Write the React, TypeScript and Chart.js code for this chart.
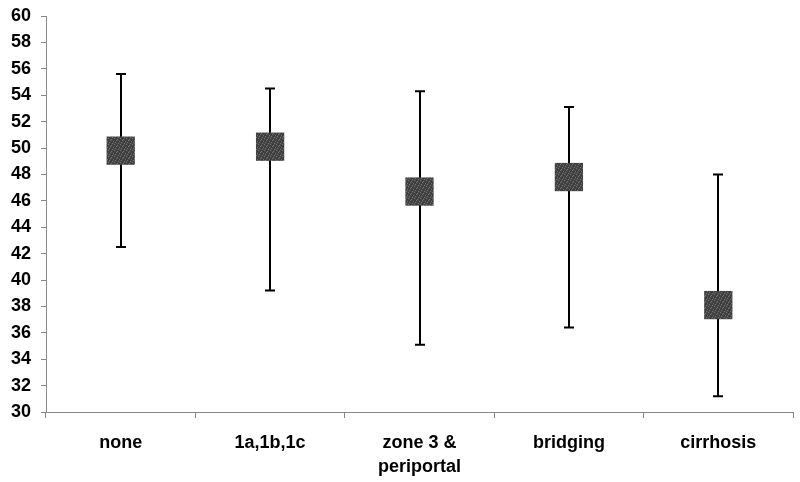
import React, { useEffect, useRef } from "react";
import { Chart, registerables } from "chart.js";

Chart.register(...registerables);

const categories: (string | string[])[] = ["none", "1a,1b,1c", ["zone 3 &", "periportal"], "bridging", "cirrhosis"];
const means = [49.8, 50.1, 46.7, 47.8, 38.1];
const upper = [55.6, 54.5, 54.3, 53.1, 48.0];
const lower = [42.5, 39.2, 35.1, 36.4, 31.2];

function makePattern(): CanvasPattern | string {
  const c = document.createElement("canvas");
  c.width = 6;
  c.height = 6;
  const g = c.getContext("2d");
  if (!g) return "#4a4a4a";
  g.fillStyle = "#464646";
  g.fillRect(0, 0, 6, 6);
  g.fillStyle = "#727272";
  const light = [[0, 0], [3, 1], [5, 3], [1, 4], [4, 5], [2, 2]];
  light.forEach(([x, y]) => g.fillRect(x, y, 1, 1));
  g.fillStyle = "#343434";
  const dark = [[2, 0], [5, 1], [0, 3], [3, 4], [1, 2], [4, 3]];
  dark.forEach(([x, y]) => g.fillRect(x, y, 1, 1));
  const p = g.createPattern(c, "repeat");
  return p || "#4a4a4a";
}

const errorBars = {
  id: "errorBars",
  beforeDatasetsDraw(chart: any) {
    const ctx = chart.ctx;
    const xs = chart.scales.x;
    const ys = chart.scales.y;
    ctx.save();
    ctx.strokeStyle = "#000";
    ctx.lineWidth = 2;
    for (let i = 0; i < means.length; i++) {
      const x = Math.round(xs.getPixelForValue(i));
      const yt = ys.getPixelForValue(upper[i]);
      const yb = ys.getPixelForValue(lower[i]);
      ctx.beginPath();
      ctx.moveTo(x, yt);
      ctx.lineTo(x, yb);
      ctx.moveTo(x - 5, yt);
      ctx.lineTo(x + 5, yt);
      ctx.moveTo(x - 5, yb);
      ctx.lineTo(x + 5, yb);
      ctx.stroke();
    }
    ctx.restore();
  },
};

export default function App() {
  const ref = useRef<HTMLCanvasElement | null>(null);
  useEffect(() => {
    if (!ref.current) return;
    const pattern = makePattern();
    const font = { family: "'Liberation Sans', Arial, sans-serif", size: 18, weight: "bold" as const, lineHeight: 1.28 };
    const chart = new Chart(ref.current, {
      type: "line",
      data: {
        labels: categories as any,
        datasets: [
          {
            data: means,
            showLine: false,
            pointStyle: "rect",
            pointRadius: 20,
            pointHoverRadius: 20,
            backgroundColor: pattern as any,
            borderColor: "rgba(0,0,0,0)",
            borderWidth: 0,
          },
        ],
      },
      options: {
        animation: false,
        responsive: false,
        maintainAspectRatio: false,
        layout: { autoPadding: false, padding: { top: 16, right: 7, left: 0, bottom: 0 } },
        plugins: { legend: { display: false }, tooltip: { enabled: false } },
        scales: {
          x: {
            type: "category",
            offset: true,
            grid: { display: true, offset: true, drawOnChartArea: false, tickLength: 6, color: "#888", lineWidth: 1 },
            border: { display: true, color: "#888", width: 1 },
            ticks: { color: "#000", font, padding: 14, maxRotation: 0, autoSkip: false },
            afterFit: (s: any) => {
              s.height = 70;
              s.paddingLeft = 0;
              s.paddingRight = 0;
            },
          },
          y: {
            min: 30,
            max: 60,
            grid: { display: true, drawOnChartArea: false, tickLength: 5, color: "#888", lineWidth: 1 },
            border: { display: true, color: "#888", width: 1 },
            ticks: { stepSize: 2, color: "#000", font: { ...font, lineHeight: 1.2 }, padding: 10 },
            afterFit: (s: any) => {
              s.width = 46;
              s.paddingTop = 0;
              s.paddingBottom = 0;
            },
          },
        },
      },
      plugins: [errorBars],
    });
    return () => chart.destroy();
  }, []);
  return (
    <div style={{ position: "absolute", left: 0, top: 0, width: 800, height: 482, background: "#fff" }}>
      <canvas ref={ref} width={800} height={482} style={{ width: 800, height: 482 }} />
    </div>
  );
}
